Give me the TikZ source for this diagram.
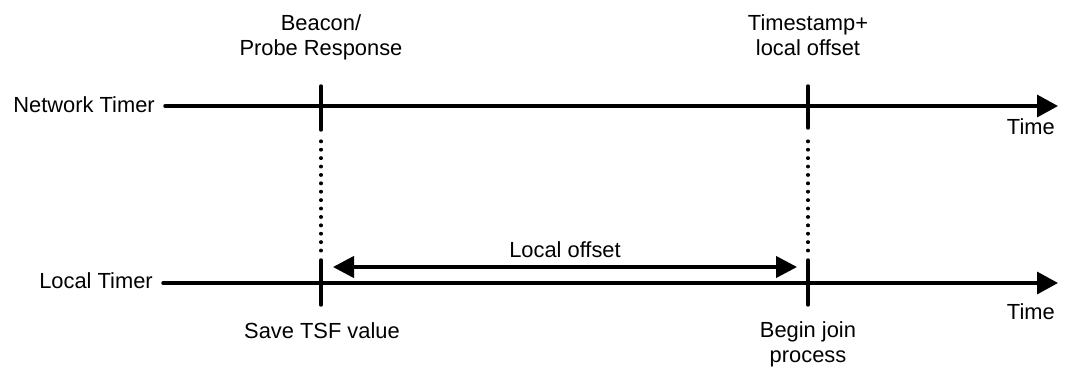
\documentclass[tikz,border=0pt]{standalone}
\usepackage{fontspec}
\setmainfont{Liberation Sans}
\usetikzlibrary{arrows.meta}
\begin{document}
\begin{tikzpicture}[x=0.75pt,y=-0.75pt,
  lbl/.style={inner sep=0pt, align=center, font=\fontsize{16.4}{18.75}\selectfont},
  axis/.style={line width=2.6pt, line cap=round, -{Triangle[length=15.75pt,width=16.5pt]}},
  tickmark/.style={line width=2.6pt, line cap=round},
  guide/.style={line width=2.4pt, line cap=round, dash pattern=on 0.5pt off 5.8pt},
  span/.style={line width=2.4pt,
    {Triangle[length=15.75pt,width=16pt]}-{Triangle[length=15.75pt,width=16pt]}}]
\useasboundingbox (0,0) rectangle (1078,369);

% timer axes
\node[lbl, anchor=base east] (ntl) at (155,112) {Network Timer};
\node[lbl, anchor=base east] (ltl) at (153,288) {Local Timer};
\coordinate (ns) at (165,106); \coordinate (ne) at (1058,106);
\coordinate (ls) at (163,283); \coordinate (le) at (1058,283);
\draw[axis] (ns) -- (ne);
\draw[axis] (ls) -- (le);
\node[lbl, anchor=base east] (nt) at (1055,134) {Time};
\node[lbl, anchor=base east] (lt) at (1055,319) {Time};

% beacon reception / TSF saved
\coordinate (a1) at (321,86);  \coordinate (a2) at (321,130);
\coordinate (a3) at (321,141); \coordinate (a4) at (321,258);
\coordinate (a5) at (321,260); \coordinate (a6) at (321,305);
\draw[tickmark] (a1) -- (a2);
\draw[guide] (a3) -- (a4);
\draw[tickmark] (a5) -- (a6);
\node[lbl, anchor=base] (beacon) at (321,55) {Beacon/\\Probe Response};
\node[lbl, anchor=base] (save) at (322,338) {Save TSF value};

% join start
\coordinate (b1) at (808,86);  \coordinate (b2) at (808,128);
\coordinate (b3) at (808,141); \coordinate (b4) at (808,258);
\coordinate (b5) at (808,260); \coordinate (b6) at (808,305);
\draw[tickmark] (b1) -- (b2);
\draw[guide] (b3) -- (b4);
\draw[tickmark] (b5) -- (b6);
\node[lbl, anchor=base] (stamp) at (808,55) {Timestamp+\\local offset};
\node[lbl, anchor=base] (join) at (808,362) {Begin join\\process};

% local offset span
\coordinate (s1) at (333,267); \coordinate (s2) at (797,267);
\draw[span] (s1) -- (s2);
\node[lbl, anchor=base] (off) at (565,257) {Local offset};
\end{tikzpicture}
\end{document}
